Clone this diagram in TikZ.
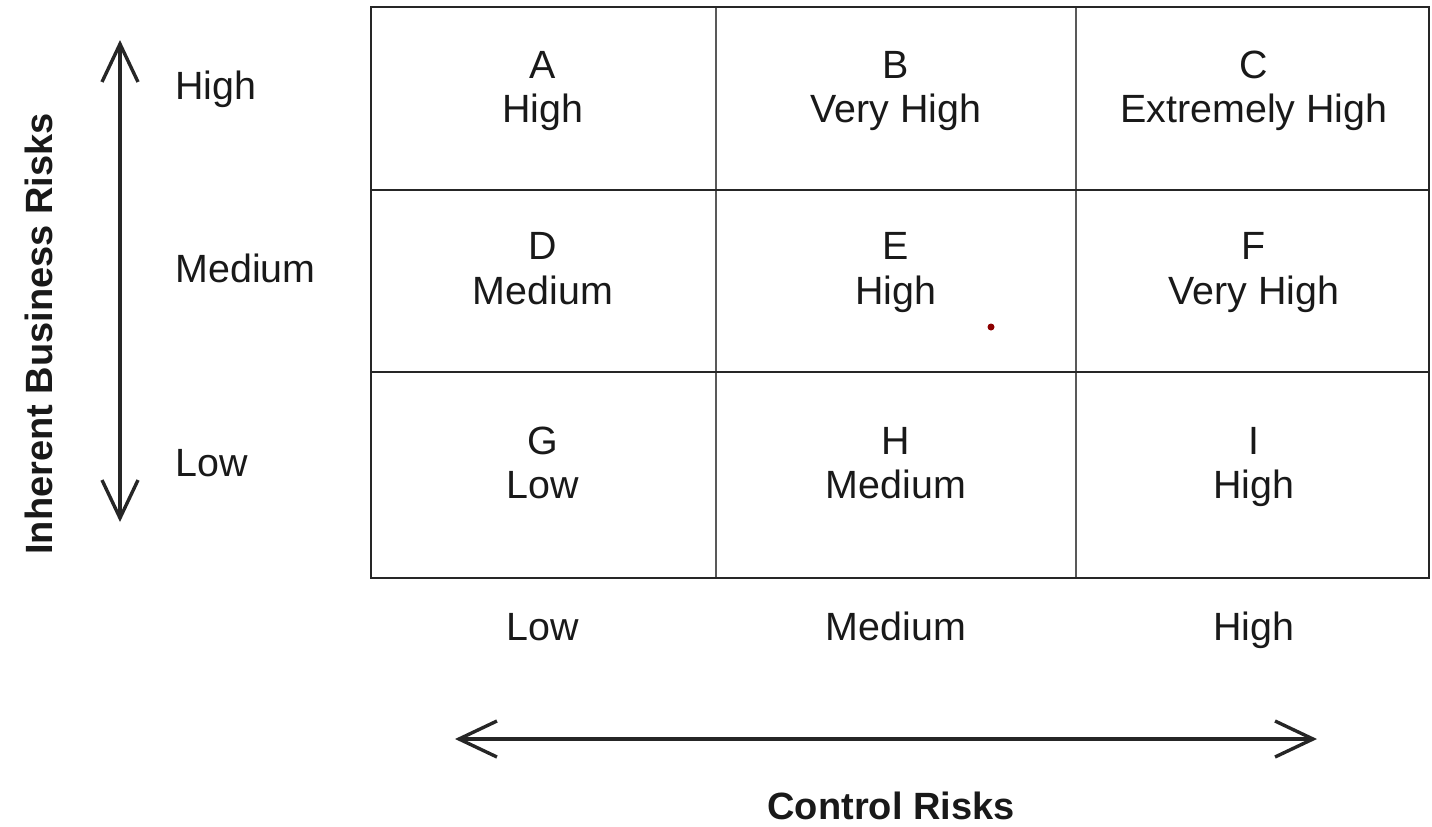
\documentclass[tikz,border=0pt]{standalone}
\usepackage{fontspec}
\setmainfont{Liberation Sans}
\usetikzlibrary{arrows.meta}
\begin{document}
\begin{tikzpicture}[x=0.5pt,y=-0.5pt,
  lbl/.style={font=\fontsize{19.7pt}{22pt}\selectfont, text=black!90, inner sep=0pt, anchor=base},
  axis/.style={font=\bfseries\fontsize{19pt}{22pt}\selectfont, text=black!90, inner sep=0pt, anchor=base},
  outer/.style={line width=1.1pt, draw=black!85},
  inner/.style={line width=0.9pt, draw=black!65},
  dbl/.style={line width=1.7pt, draw=black!85, {Straight Barb[length=19pt,width=18pt,line width=1.7pt]}-{Straight Barb[length=19pt,width=18pt,line width=1.7pt]}}
]
\useasboundingbox (0,0) rectangle (1432,826);
% grid corners
\coordinate (tl) at (371,7);
\coordinate (br) at (1429,578);
\coordinate (c1t) at (716,7);
\coordinate (c1b) at (716,578);
\coordinate (c2t) at (1076,7);
\coordinate (c2b) at (1076,578);
\coordinate (r1l) at (371,190);
\coordinate (r1r) at (1429,190);
\coordinate (r2l) at (371,372);
\coordinate (r2r) at (1429,372);
\draw[inner] (c1t) -- (c1b);
\draw[inner] (c2t) -- (c2b);
\draw[outer] (r1l) -- (r1r);
\draw[outer] (r2l) -- (r2r);
\draw[outer] (tl) rectangle (br);

% cells: letter and rating
\node[lbl] (A) at (543,78) {A};   \node[lbl] (Av) at (543,122) {High};
\node[lbl] (B) at (896,78) {B};   \node[lbl] (Bv) at (896,122) {Very High};
\node[lbl] (C) at (1254,78) {C};  \node[lbl] (Cv) at (1254,122) {Extremely High};
\node[lbl] (D) at (543,259) {D};  \node[lbl] (Dv) at (543,304) {Medium};
\node[lbl] (E) at (896,259) {E};  \node[lbl] (Ev) at (896,304) {High};
\node[lbl] (F) at (1254,259) {F}; \node[lbl] (Fv) at (1254,304) {Very High};
\node[lbl] (G) at (543,454) {G};  \node[lbl] (Gv) at (543,498) {Low};
\node[lbl] (H) at (896,454) {H};  \node[lbl] (Hv) at (896,498) {Medium};
\node[lbl] (I) at (1254,454) {I}; \node[lbl] (Iv) at (1254,498) {High};

% red dot
\fill[red!55!black] (991,327) circle (3.5);

% row labels
\node[lbl, anchor=base west] (rh) at (175,99) {High};
\node[lbl, anchor=base west] (rm) at (175,282) {Medium};
\node[lbl, anchor=base west] (rl) at (175,476) {Low};

% column labels
\node[lbl] (cl) at (543,640) {Low};
\node[lbl] (cm) at (896,640) {Medium};
\node[lbl] (ch) at (1254,640) {High};

% arrows
\coordinate (vt) at (120,40);
\coordinate (vb) at (120,522);
\draw[dbl] (vt) -- (vb);
\coordinate (hl) at (455,739);
\coordinate (hr) at (1317,739);
\draw[dbl] (hl) -- (hr);

% axis titles
\node[axis, rotate=90] (yt) at (53,334) {Inherent Business Risks};
\node[axis] (xt) at (891,819) {Control Risks};
\end{tikzpicture}
\end{document}
